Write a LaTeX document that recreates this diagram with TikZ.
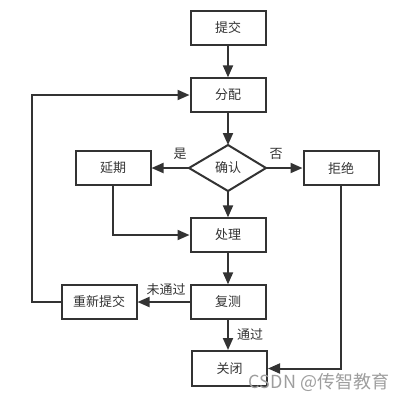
\documentclass[tikz,border=0pt]{standalone}
\usepackage{fontspec}
\setmainfont{Noto Sans CJK SC}
\usetikzlibrary{arrows.meta}
\definecolor{ln}{HTML}{333333}
\begin{document}
\begin{tikzpicture}[x=0.75pt,y=-0.75pt,
  box/.style={draw=ln,line width=1.5pt,minimum width=56.25pt,minimum height=25pt,inner sep=0pt,font=\fontsize{9.75}{11}\selectfont,text=ln},
  arr/.style={draw=ln,line width=1.5pt,-{Triangle[length=9pt,width=7.5pt]}},
  lbl/.style={font=\fontsize{9.75}{11}\selectfont,text=ln,inner sep=1pt}]
\useasboundingbox (0,0) rectangle (402,401);
\node[box] (submit) at (228,28) {提交};
\node[box] (assign) at (228,95) {分配};
\coordinate (cl) at (189,168);
\coordinate (ct) at (228,145);
\coordinate (cr) at (266,168);
\coordinate (cb) at (228,191);
\draw[draw=ln,line width=1.5pt,line join=miter] (cl) -- (ct) -- (cr) -- (cb) -- cycle;
\node[lbl] (confirm) at (228,168) {确认};
\node[box] (delay) at (113,168) {延期};
\node[box] (reject) at (341,168) {拒绝};
\node[box] (process) at (228,235) {处理};
\node[box] (retest) at (228,302) {复测};
\node[box] (resubmit) at (99,302) {重新提交};
\node[box,minimum height=26.25pt] (close) at (229.5,368.5) {关闭};
\coordinate (lt) at (32,95);
\coordinate (lb) at (32,302);
\draw[arr] (submit) -- (assign);
\draw[arr] (assign) -- (ct);
\draw[arr] (cl) -- (delay);
\draw[arr] (cr) -- (reject);
\draw[arr] (cb) -- (process);
\draw[arr] (delay.south) |- (process.west);
\draw[arr] (process) -- (retest);
\draw[arr] (retest) -- (resubmit);
\draw[arr] (retest.south) -- (retest.south |- close.north);
\draw[arr] (reject.south) |- (close.east);
\draw[arr] (resubmit.west) -- (lb) -- (lt) -- (assign.west);
\node[lbl] at (180,154) {是};
\node[lbl] at (276,154) {否};
\node[lbl] at (166,290) {未通过};
\node[lbl] at (250,335) {通过};
\node[font=\fontsize{13.5}{15}\selectfont,text=black!38] at (319,382) {CSDN @传智教育};
\end{tikzpicture}
\end{document}
